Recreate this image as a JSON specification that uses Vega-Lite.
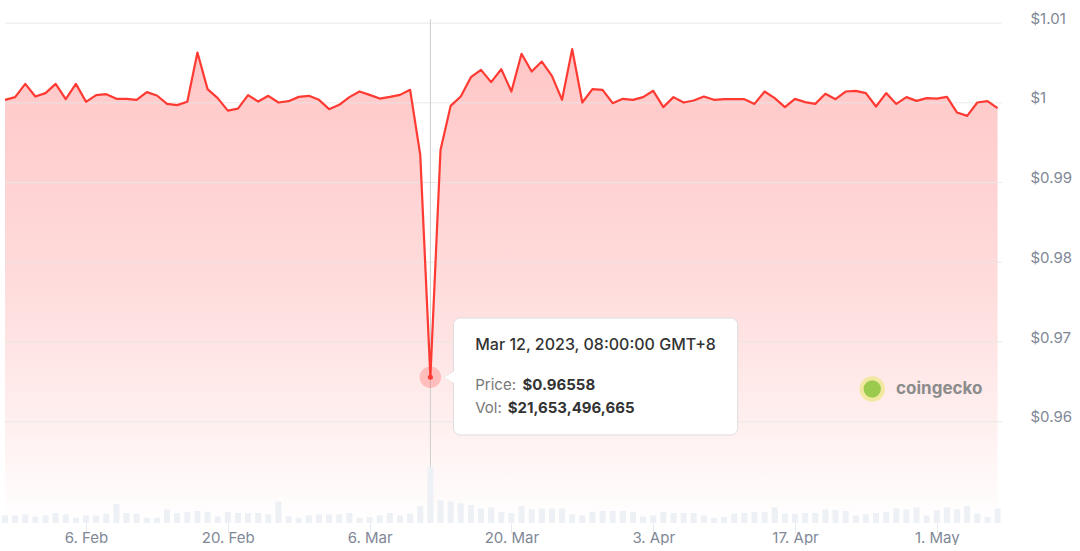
{
  "$schema": "https://vega.github.io/schema/vega-lite/v6.json",
  "width": 1007,
  "height": 523,
  "padding": 0,
  "background": "white",
  "config": {"view": {"stroke": null}, "font": "Inter"},
  "datasets": {
    "series": [
      {"date":"2023-01-29","price":1.00038,"vol":2940000000},
      {"date":"2023-01-30","price":1.00072,"vol":2940000000},
      {"date":"2023-01-31","price":1.00238,"vol":3350000000},
      {"date":"2023-02-01","price":1.00079,"vol":2540000000},
      {"date":"2023-02-02","price":1.00122,"vol":2940000000},
      {"date":"2023-02-03","price":1.00238,"vol":3880000000},
      {"date":"2023-02-04","price":1.00046,"vol":3350000000},
      {"date":"2023-02-05","price":1.00238,"vol":2000000000},
      {"date":"2023-02-06","price":1.00013,"vol":2940000000},
      {"date":"2023-02-07","price":1.00097,"vol":2940000000},
      {"date":"2023-02-08","price":1.00109,"vol":3610000000},
      {"date":"2023-02-09","price":1.0005,"vol":7360000000},
      {"date":"2023-02-10","price":1.0005,"vol":3880000000},
      {"date":"2023-02-11","price":1.00038,"vol":3610000000},
      {"date":"2023-02-12","price":1.00134,"vol":2000000000},
      {"date":"2023-02-13","price":1.00092,"vol":2000000000},
      {"date":"2023-02-14","price":0.99987,"vol":5220000000},
      {"date":"2023-02-15","price":0.99971,"vol":3880000000},
      {"date":"2023-02-16","price":1.00013,"vol":4280000000},
      {"date":"2023-02-17","price":1.00631,"vol":4680000000},
      {"date":"2023-02-18","price":1.00172,"vol":4280000000},
      {"date":"2023-02-19","price":1.00059,"vol":2540000000},
      {"date":"2023-02-20","price":0.99903,"vol":4280000000},
      {"date":"2023-02-21","price":0.99928,"vol":3880000000},
      {"date":"2023-02-22","price":1.00097,"vol":3880000000},
      {"date":"2023-02-23","price":1.00016,"vol":3880000000},
      {"date":"2023-02-24","price":1.00088,"vol":3350000000},
      {"date":"2023-02-25","price":1.00004,"vol":8300000000},
      {"date":"2023-02-26","price":1.00021,"vol":2540000000},
      {"date":"2023-02-27","price":1.00075,"vol":2000000000},
      {"date":"2023-02-28","price":1.00088,"vol":2940000000},
      {"date":"2023-03-01","price":1.00038,"vol":3350000000},
      {"date":"2023-03-02","price":0.99921,"vol":3350000000},
      {"date":"2023-03-03","price":0.99975,"vol":3350000000},
      {"date":"2023-03-04","price":1.00072,"vol":3880000000},
      {"date":"2023-03-05","price":1.00143,"vol":2000000000},
      {"date":"2023-03-06","price":1.001,"vol":2270000000},
      {"date":"2023-03-07","price":1.00054,"vol":2940000000},
      {"date":"2023-03-08","price":1.00075,"vol":3880000000},
      {"date":"2023-03-09","price":1.001,"vol":2940000000},
      {"date":"2023-03-10","price":1.00163,"vol":3610000000},
      {"date":"2023-03-11","price":0.99348,"vol":6560000000},
      {"date":"2023-03-12","price":0.96558,"vol":21653496665},
      {"date":"2023-03-13","price":0.9941,"vol":8700000000},
      {"date":"2023-03-14","price":0.99962,"vol":8300000000},
      {"date":"2023-03-15","price":1.00079,"vol":7630000000},
      {"date":"2023-03-16","price":1.00322,"vol":6960000000},
      {"date":"2023-03-17","price":1.00414,"vol":5620000000},
      {"date":"2023-03-18","price":1.0026,"vol":6020000000},
      {"date":"2023-03-19","price":1.00423,"vol":4280000000},
      {"date":"2023-03-20","price":1.00142,"vol":3880000000},
      {"date":"2023-03-21","price":1.00615,"vol":6560000000},
      {"date":"2023-03-22","price":1.00393,"vol":5220000000},
      {"date":"2023-03-23","price":1.00518,"vol":5620000000},
      {"date":"2023-03-24","price":1.00339,"vol":5620000000},
      {"date":"2023-03-25","price":1.00038,"vol":5620000000},
      {"date":"2023-03-26","price":1.00674,"vol":3350000000},
      {"date":"2023-03-27","price":1.00004,"vol":2940000000},
      {"date":"2023-03-28","price":1.00172,"vol":4280000000},
      {"date":"2023-03-29","price":1.00163,"vol":4680000000},
      {"date":"2023-03-30","price":0.99996,"vol":4680000000},
      {"date":"2023-03-31","price":1.0005,"vol":4680000000},
      {"date":"2023-04-01","price":1.00038,"vol":4280000000},
      {"date":"2023-04-02","price":1.00072,"vol":2540000000},
      {"date":"2023-04-03","price":1.00151,"vol":2940000000},
      {"date":"2023-04-04","price":0.99946,"vol":4280000000},
      {"date":"2023-04-05","price":1.00072,"vol":3880000000},
      {"date":"2023-04-06","price":1.00004,"vol":3880000000},
      {"date":"2023-04-07","price":1.00029,"vol":3880000000},
      {"date":"2023-04-08","price":1.00079,"vol":2940000000},
      {"date":"2023-04-09","price":1.00038,"vol":2000000000},
      {"date":"2023-04-10","price":1.00046,"vol":2270000000},
      {"date":"2023-04-11","price":1.00046,"vol":3610000000},
      {"date":"2023-04-12","price":1.00046,"vol":3880000000},
      {"date":"2023-04-13","price":0.99987,"vol":4280000000},
      {"date":"2023-04-14","price":1.00142,"vol":4280000000},
      {"date":"2023-04-15","price":1.00059,"vol":6020000000},
      {"date":"2023-04-16","price":0.99946,"vol":3610000000},
      {"date":"2023-04-17","price":1.0005,"vol":3610000000},
      {"date":"2023-04-18","price":1.00009,"vol":3880000000},
      {"date":"2023-04-19","price":0.99987,"vol":3880000000},
      {"date":"2023-04-20","price":1.00113,"vol":5220000000},
      {"date":"2023-04-21","price":1.00046,"vol":4950000000},
      {"date":"2023-04-22","price":1.00142,"vol":4680000000},
      {"date":"2023-04-23","price":1.00151,"vol":2940000000},
      {"date":"2023-04-24","price":1.00122,"vol":3350000000},
      {"date":"2023-04-25","price":0.99954,"vol":3880000000},
      {"date":"2023-04-26","price":1.00122,"vol":4280000000},
      {"date":"2023-04-27","price":0.99987,"vol":5620000000},
      {"date":"2023-04-28","price":1.00072,"vol":5220000000},
      {"date":"2023-04-29","price":1.00025,"vol":6020000000},
      {"date":"2023-04-30","price":1.00059,"vol":2940000000},
      {"date":"2023-05-01","price":1.00054,"vol":4950000000},
      {"date":"2023-05-02","price":1.00075,"vol":6020000000},
      {"date":"2023-05-03","price":0.99878,"vol":5220000000},
      {"date":"2023-05-04","price":0.99837,"vol":6560000000},
      {"date":"2023-05-05","price":1.00004,"vol":3610000000},
      {"date":"2023-05-06","price":1.00021,"vol":2270000000},
      {"date":"2023-05-07","price":0.99934,"vol":5620000000}
    ],
    "grid": [
      {"price":0.96,"date":"2023-01-29T00:00:00Z","date2":"2023-05-07T10:30:00Z"},
      {"price":0.97,"date":"2023-01-29T00:00:00Z","date2":"2023-05-07T10:30:00Z"},
      {"price":0.98,"date":"2023-01-29T00:00:00Z","date2":"2023-05-07T10:30:00Z"},
      {"price":0.99,"date":"2023-01-29T00:00:00Z","date2":"2023-05-07T10:30:00Z"},
      {"price":1.0,"date":"2023-01-29T00:00:00Z","date2":"2023-05-07T10:30:00Z"},
      {"price":1.01,"date":"2023-01-29T00:00:00Z","date2":"2023-05-07T10:30:00Z"}
    ],
    "notes": [
      {"kind":"cross","date":"2023-03-12T00:00:00Z","price":1.0105,"price2":0.9473},
      {"kind":"box","date":"2023-03-14T06:43:00Z","date2":"2023-04-11T08:10:00Z","price":0.97301,"price2":0.95834},
      {"kind":"ptr","date":"2023-03-13T21:00:00Z","price":0.96558},
      {"kind":"mark","date":"2023-03-12T00:00:00Z","price":0.96558},
      {"kind":"title","date":"2023-03-16T10:19:00Z","price":0.96966,"label":"Mar 12, 2023, 08:00:00 GMT+8"},
      {"kind":"key","date":"2023-03-16T10:19:00Z","price":0.96465,"label":"Price:"},
      {"kind":"key","date":"2023-03-16T10:19:00Z","price":0.96176,"label":"Vol:"},
      {"kind":"val","date":"2023-03-21T02:10:00Z","price":0.96465,"label":"$0.96558"},
      {"kind":"val","date":"2023-03-19T15:06:00Z","price":0.96176,"label":"$21,653,496,665"},
      {"kind":"logo","date":"2023-04-24T15:07:00Z","price":0.96411},
      {"kind":"brand","date":"2023-04-26T23:30:00Z","price":0.96411,"label":"coingecko"}
    ]
  },
  "encoding": {
    "x": {
      "field": "date",
      "type": "temporal",
      "scale": {
        "type": "utc",
        "domain": [
          {"year": 2023, "month": "jan", "date": 29, "utc": true},
          {"year": 2023, "month": "may", "date": 7, "hours": 10, "minutes": 30, "utc": true}
        ]
      },
      "axis": {
        "title": null,
        "orient": "bottom",
        "values": [
          {"year": 2023, "month": "feb", "date": 6, "utc": true},
          {"year": 2023, "month": "feb", "date": 20, "utc": true},
          {"year": 2023, "month": "mar", "date": 6, "utc": true},
          {"year": 2023, "month": "mar", "date": 20, "utc": true},
          {"year": 2023, "month": "apr", "date": 3, "utc": true},
          {"year": 2023, "month": "apr", "date": 17, "utc": true},
          {"year": 2023, "month": "may", "date": 1, "utc": true}
        ],
        "labelExpr": "utcFormat(datum.value, '%-d. %b')",
        "grid": false,
        "domain": false,
        "ticks": true,
        "tickSize": 10,
        "tickColor": "#e6e9ee",
        "labelPadding": -3,
        "labelFont": "Inter",
        "labelFontSize": 15,
        "labelColor": "#7f8896",
        "labelOverlap": false,
        "labelFlush": false
      }
    }
  },
  "layer": [
    {
      "encoding": {
        "y": {
          "field": "price",
          "type": "quantitative",
          "scale": {"domain": [0.9473, 1.0129], "zero": false, "nice": false},
          "axis": {
            "title": null,
            "orient": "right",
            "values": [0.96, 0.97, 0.98, 0.99, 1, 1.01],
            "labelExpr": "'$' + format(datum.value, '.2~f')",
            "grid": false,
            "domain": false,
            "ticks": false,
            "labelPadding": 23,
            "labelAlign": "left",
            "labelBaseline": "alphabetic",
            "labelFont": "Inter",
            "labelFontSize": 15,
            "labelColor": "#7f8896",
            "labelFlush": false,
            "labelOverlap": false
          }
        }
      },
      "layer": [
        {
          "data": {"name": "series"},
          "mark": {
            "type": "area",
            "clip": true,
            "fill": {
              "gradient": "linear", "x1": 0, "y1": 0, "x2": 0, "y2": 1,
              "stops": [
                {"offset": 0, "color": "#ffc6c6"},
                {"offset": 0.5, "color": "#ffdcdc"},
                {"offset": 0.8, "color": "#fff0f0"},
                {"offset": 1, "color": "#ffffff"}
              ]
            }
          },
          "encoding": {"y2": {"datum": 0.9473}}
        },
        {
          "data": {"name": "grid"},
          "mark": {"type": "rule", "color": "#e6e6e6", "strokeWidth": 1, "opacity": 0.85},
          "encoding": {"x2": {"field": "date2"}}
        },
        {
          "data": {"name": "notes"},
          "transform": [{"filter": "datum.kind === 'cross'"}],
          "mark": {"type": "rule", "color": "#cccccc", "strokeWidth": 1},
          "encoding": {"y2": {"field": "price2"}}
        },
        {
          "data": {"name": "series"},
          "mark": {"type": "line", "clip": true, "color": "#ff3a33", "strokeWidth": 2.2, "strokeJoin": "round"}
        },
        {
          "data": {"name": "notes"},
          "transform": [{"filter": "datum.kind === 'mark'"}],
          "mark": {"type": "point", "filled": true, "color": "#ff3a33", "opacity": 0.25, "size": 460, "shape": "circle"}
        },
        {
          "data": {"name": "notes"},
          "transform": [{"filter": "datum.kind === 'mark'"}],
          "mark": {"type": "point", "filled": true, "color": "#ff3a33", "opacity": 1, "size": 25, "shape": "circle"}
        },
        {
          "data": {"name": "notes"},
          "transform": [{"filter": "datum.kind === 'logo'"}],
          "mark": {"type": "point", "filled": true, "color": "#f1e89a", "opacity": 0.9, "size": 650, "shape": "circle"}
        },
        {
          "data": {"name": "notes"},
          "transform": [{"filter": "datum.kind === 'logo'"}],
          "mark": {"type": "point", "filled": true, "color": "#8cc540", "opacity": 0.85, "size": 300, "shape": "circle"}
        },
        {
          "data": {"name": "notes"},
          "transform": [{"filter": "datum.kind === 'brand'"}],
          "mark": {"type": "text", "align": "left", "baseline": "middle", "font": "Inter", "fontSize": 17, "fontWeight": "bold", "color": "#8c8c8c"},
          "encoding": {"text": {"field": "label"}}
        },
        {
          "data": {"name": "notes"},
          "transform": [{"filter": "datum.kind === 'box'"}],
          "mark": {"type": "rect", "color": "#000000", "opacity": 0.07, "cornerRadius": 8, "xOffset": 2, "yOffset": 3},
          "encoding": {"x2": {"field": "date2"}, "y2": {"field": "price2"}}
        },
        {
          "data": {"name": "notes"},
          "transform": [{"filter": "datum.kind === 'ptr'"}],
          "mark": {"type": "point", "shape": "triangle-left", "filled": true, "fill": "#ffffff", "stroke": "#dddddd", "strokeWidth": 1, "opacity": 1, "size": 140}
        },
        {
          "data": {"name": "notes"},
          "transform": [{"filter": "datum.kind === 'box'"}],
          "mark": {"type": "rect", "fill": "#ffffff", "stroke": "#dddddd", "strokeWidth": 1, "cornerRadius": 7},
          "encoding": {"x2": {"field": "date2"}, "y2": {"field": "price2"}}
        },
        {
          "data": {"name": "notes"},
          "transform": [{"filter": "datum.kind === 'ptr'"}],
          "mark": {"type": "point", "shape": "triangle-left", "filled": true, "fill": "#ffffff", "strokeWidth": 0, "opacity": 1, "size": 140}
        },
        {
          "data": {"name": "notes"},
          "transform": [{"filter": "datum.kind === 'title'"}],
          "mark": {"type": "text", "align": "left", "baseline": "middle", "font": "Inter", "fontSize": 16, "fontWeight": 500, "color": "#333333"},
          "encoding": {"text": {"field": "label"}}
        },
        {
          "data": {"name": "notes"},
          "transform": [{"filter": "datum.kind === 'key'"}],
          "mark": {"type": "text", "align": "left", "baseline": "middle", "font": "Inter", "fontSize": 15, "color": "#777777"},
          "encoding": {"text": {"field": "label"}}
        },
        {
          "data": {"name": "notes"},
          "transform": [{"filter": "datum.kind === 'val'"}],
          "mark": {"type": "text", "align": "left", "baseline": "middle", "font": "Inter", "fontSize": 15, "fontWeight": "bold", "color": "#333333"},
          "encoding": {"text": {"field": "label"}}
        }
      ]
    },
    {
      "data": {"name": "series"},
      "mark": {"type": "bar", "size": 6, "color": "#edf0f4", "clip": true},
      "encoding": {
        "y": {"field": "vol", "type": "quantitative", "scale": {"domain": [0, 202000000000], "nice": false}, "axis": null}
      }
    }
  ],
  "resolve": {"scale": {"y": "independent"}, "axis": {"y": "independent"}}
}
